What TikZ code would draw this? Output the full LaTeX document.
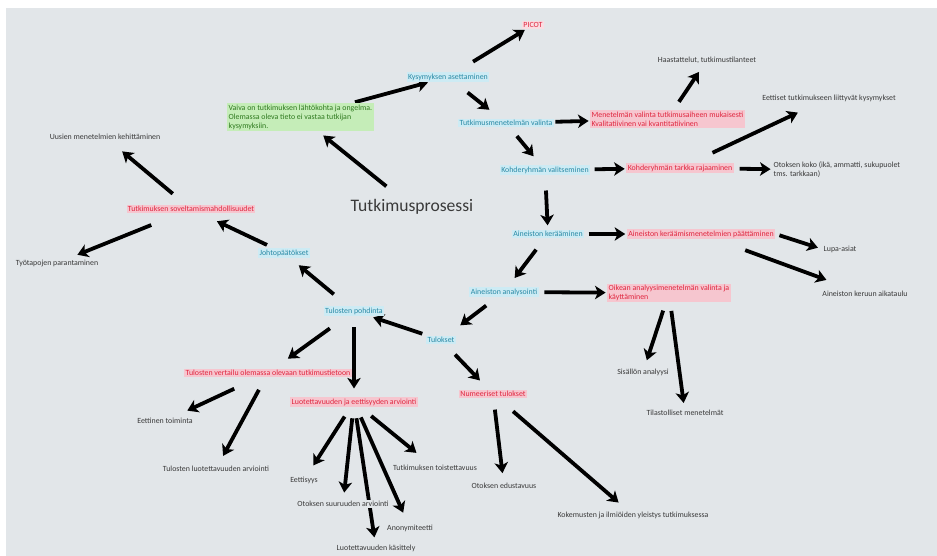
\documentclass[tikz,border=0pt]{standalone}
\usepackage{fontspec}
\setmainfont{Carlito}
\usepackage{tikz}
\usetikzlibrary{arrows.meta, positioning, backgrounds}
\definecolor{procbg}{HTML}{E2E6E9}
\definecolor{procblue}{HTML}{2A8AA6}
\definecolor{procbluelight}{HTML}{CDEBF4}
\definecolor{procred}{HTML}{E0263F}
\definecolor{procredlight}{HTML}{F6C6CF}
\definecolor{procgreen}{HTML}{2F7A1F}
\definecolor{procgreenlight}{HTML}{C5EDB8}
\definecolor{proctext}{HTML}{3A3A3A}

\begin{document}
\begin{tikzpicture}[
  x=0.025cm, y=-0.025cm,
  lbl/.style={inner sep=1pt, align=left, font=\fontsize{5.6}{6.4}\selectfont},
  blu/.style={lbl, fill=procbluelight, text=procblue},
  rd/.style={lbl, fill=procredlight, text=procred},
  grn/.style={lbl, fill=procgreenlight, text=procgreen},
  txt/.style={lbl, fill=procbg, text=proctext},
  arr/.style={-{Stealth[length=7.5pt, width=9.5pt, inset=2pt]}, line width=2.7pt, black}
]
\useasboundingbox (0,0) rectangle (937,556);

% main path
\node[font=\fontsize{12.5}{14}\selectfont, text=proctext, inner sep=1pt] (proc) at (412,207) {Tutkimusprosessi};
\node[grn, anchor=west] (vaiva) at (227,117) {Vaiva on tutkimuksen lähtökohta ja ongelma.\\ Olemassa oleva tieto ei vastaa tutkijan\\ kysymyksiin.};
\node[rd, fill=procredlight!60] (picot) at (533,25) {PICOT};
\node[blu] (kys) at (448,77) {Kysymyksen asettaminen};
\node[blu] (menet) at (506,123) {Tutkimusmenetelmän valinta};
\node[blu] (kohde) at (545,170) {Kohderyhmän valitseminen};
\node[blu] (keruu) at (548,234) {Aineiston kerääminen};
\node[blu] (anal) at (504,292) {Aineiston analysointi};
\node[blu] (tulos) at (441,340) {Tulokset};
\node[blu] (pohd) at (354,311) {Tulosten pohdinta};
\node[blu] (johto) at (284,253) {Johtopäätökset};

% red sub steps
\node[rd, anchor=west] (menetred) at (590,119) {Menetelmän valinta tutkimusaiheen mukaisesti\\ Kvalitatiivinen vai kvantitatiivinen};
\node[rd] (kohdered) at (680,168) {Kohderyhmän tarkka rajaaminen};
\node[rd] (keruured) at (701,234) {Aineiston keräämismenetelmien päättäminen};
\node[rd, anchor=west] (analred) at (607,293) {Oikean analyysimenetelmän valinta ja\\ käyttäminen};
\node[rd] (numer) at (493,394) {Numeeriset tulokset};
\node[rd] (vert) at (268,373) {Tulosten vertailu olemassa olevaan tutkimustietoon};
\node[rd] (luot) at (354,402) {Luotettavuuden ja eettisyyden arviointi};
\node[rd] (sovel) at (191,209) {Tutkimuksen soveltamismahdollisuudet};

% plain leaves
\node[txt] (haast) at (707,60) {Haastattelut, tutkimustilanteet};
\node[txt] (eett) at (829,98) {Eettiset tutkimukseen liittyvät kysymykset};
\node[txt, anchor=west] (otos) at (772,170) {Otoksen koko (ikä, ammatti, sukupuolet\\ tms. tarkkaan)};
\node[txt] (lupa) at (840,249) {Lupa-asiat};
\node[txt] (aikat) at (865,294) {Aineiston keruun aikataulu};
\node[txt] (sis) at (643,372) {Sisällön analyysi};
\node[txt] (tilast) at (685,413) {Tilastolliset menetelmät};
\node[txt] (otosed) at (504,486) {Otoksen edustavuus};
\node[txt] (kokem) at (633,515) {Kokemusten ja ilmiöiden yleistys tutkimuksessa};
\node[txt] (uusien) at (105,137) {Uusien menetelmien kehittäminen};
\node[txt] (tyot) at (57,263) {Työtapojen parantaminen};
\node[txt] (eettin) at (165,421) {Eettinen toiminta};
\node[txt] (tluot) at (216,469) {Tulosten luotettavuuden arviointi};
\node[txt] (eettis) at (304,480) {Eettisyys};
\node[txt] (otsuur) at (343,504) {Otoksen suuruuden arviointi};
\node[txt] (anon) at (410,528) {Anonymiteetti};
\node[txt] (toist) at (435,468) {Tutkimuksen toistettavuus};
\node[txt] (lkas) at (376,548) {Luotettavuuden käsittely};

\begin{scope}[on background layer]
\fill[white] (0,0) rectangle (937,556);
\fill[procbg] (6,8) rectangle (937,556);
\draw[arr, shorten <=13pt, shorten >=5pt] (proc) -- (vaiva);
\draw[arr, shorten <=2pt, shorten >=1pt] (vaiva) -- (kys);
\draw[arr, shorten <=14pt, shorten >=1pt] (kys) -- (picot);
\draw[arr, shorten <=12pt, shorten >=10pt] (kys) -- (menet);
\draw[arr, shorten <=8pt, shorten >=8pt] (menet) -- (kohde);
\draw[arr, shorten <=1pt, shorten >=1pt] (menet) -- (menetred);
\draw[arr, shorten <=7pt, shorten >=6pt] (menetred) -- (haast);
\draw[arr, shorten <=17pt, shorten >=16pt] (kohdered) -- (eett);
\draw[arr, shorten <=3pt, shorten >=1pt] (kohde) -- (kohdered);
\draw[arr, shorten <=4pt, shorten >=1pt] (kohdered) -- (otos);
\draw[arr, shorten <=11pt, shorten >=3pt] (kohde) -- (keruu);
\draw[arr, shorten <=3pt, shorten >=1pt] (keruu) -- (keruured);
\draw[arr, shorten <=3pt, shorten >=3pt] (keruured.east) -- (lupa.west);
\draw[arr, shorten <=23pt, shorten >=20pt] (keruured) -- (aikat);
\draw[arr, shorten <=10pt, shorten >=8pt] (keruu) -- (anal);
\draw[arr, shorten <=4pt, shorten >=1pt] (anal) -- (analred);
\draw[arr, shorten <=10pt, shorten >=12pt] (anal) -- (tulos);
\draw[arr, shorten <=6pt, shorten >=5pt] (analred) -- (sis);
\draw[arr, shorten <=6pt, shorten >=4pt] (analred) -- (tilast);
\draw[arr, shorten <=4pt, shorten >=3pt] (tulos) -- (pohd);
\draw[arr, shorten <=13pt, shorten >=8pt] (pohd) -- (johto);
\draw[arr, shorten <=5pt, shorten >=13pt] (johto) -- (sovel);
\draw[arr, shorten <=12pt, shorten >=11pt] (sovel) -- (uusien);
\draw[arr, shorten <=22pt, shorten >=6pt] (sovel) -- (tyot);
\draw[arr, shorten <=15pt, shorten >=12pt] (pohd) -- (vert);
\draw[arr, shorten <=8pt, shorten >=6pt] (pohd) -- (luot);
\draw[arr, shorten <=10pt, shorten >=9pt] (tulos) -- (numer);
\draw[arr, shorten <=8pt, shorten >=6pt] (numer) -- (otosed);
\draw[arr, shorten <=14pt, shorten >=8pt] (numer) -- (kokem);
\draw[arr, shorten <=19pt, shorten >=10pt] (vert) -- (eettin);
\draw[arr, shorten <=10pt, shorten >=7pt] (vert) -- (tluot);
\draw[arr, shorten <=8pt, shorten >=8pt] (luot) -- (eettis);
\draw[arr, shorten <=8pt, shorten >=5pt] (luot) -- (otsuur);
\draw[arr, shorten <=8pt, shorten >=4pt] (luot) -- (lkas);
\draw[arr, shorten <=8pt, shorten >=8pt] (luot) -- (anon);
\draw[arr, shorten <=10pt, shorten >=12pt] (luot) -- (toist);
\end{scope}
\end{tikzpicture}
\end{document}
